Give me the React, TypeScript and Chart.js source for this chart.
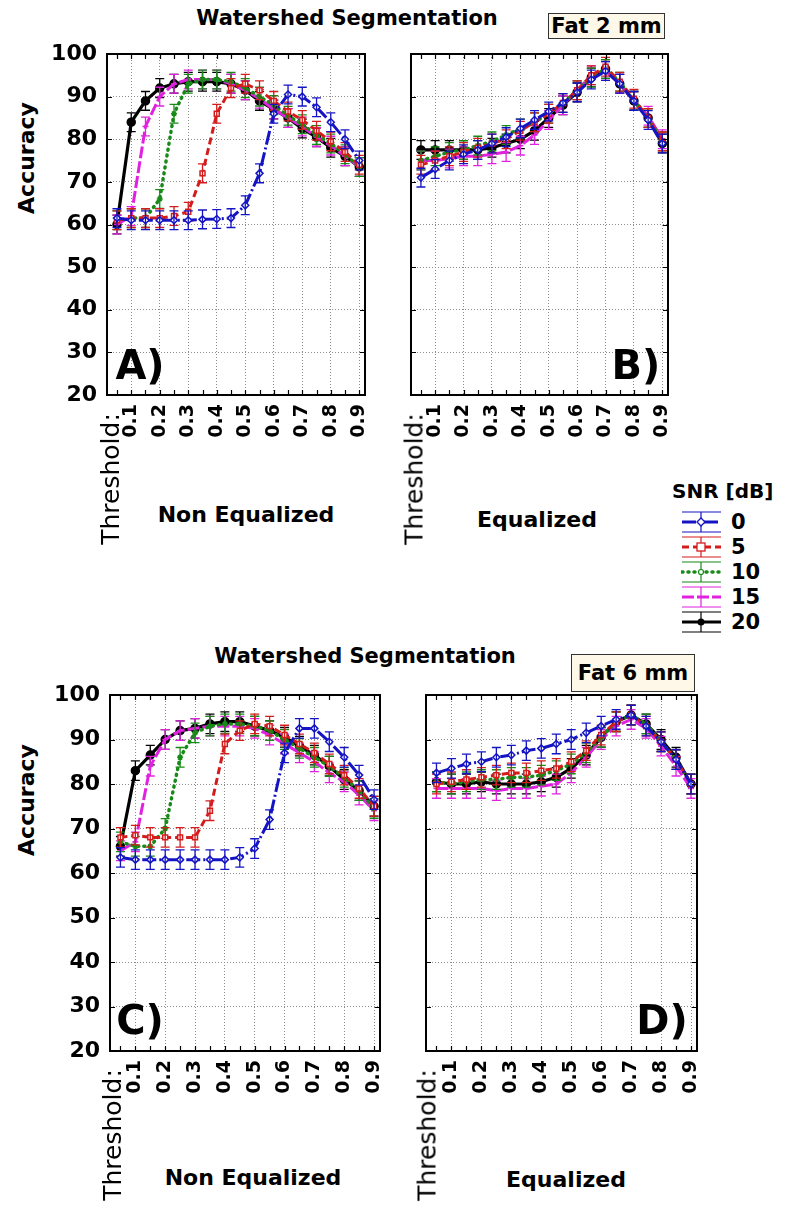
import React, { useEffect, useRef } from "react";
import { Chart, registerables } from "chart.js";
Chart.register(...registerables);

// ---------- DATA ----------
const THRESHOLDS = [0.05, 0.1, 0.15, 0.2, 0.25, 0.3, 0.35, 0.4, 0.45, 0.5, 0.55, 0.6, 0.65, 0.7, 0.75, 0.8, 0.85, 0.9];
const X_TICKS = [0.1, 0.2, 0.3, 0.4, 0.5, 0.6, 0.7, 0.8, 0.9];
const X_MINOR = [0.05, 0.1, 0.15, 0.2, 0.25, 0.3, 0.35, 0.4, 0.45, 0.5, 0.55, 0.6, 0.65, 0.7, 0.75, 0.8, 0.85, 0.9];
const Y_TICKS = [20, 30, 40, 50, 60, 70, 80, 90, 100];
const SNR_LEVELS = ["0", "5", "10", "15", "20"];
const ERROR_HALF = 2.2;

// Panel A: Non equalized, fat 2 mm
const A_SNR0 = [61.5, 61, 61, 61, 61, 61, 61.2, 61.3, 61.5, 64.5, 72, 86, 90.5, 90, 87.5, 84, 80, 75];
const A_SNR5 = [61, 61.5, 61.5, 61.5, 62, 63, 72, 86, 92, 93, 91.5, 89, 86.5, 84.5, 82, 79.5, 77, 74];
const A_SNR10 = [61, 61.5, 61.5, 66, 86, 93, 94, 94, 93.5, 92, 90, 88, 85.5, 83.5, 81, 79, 76.5, 73.5];
const A_SNR15 = [60, 62, 83, 90, 93, 94, 94, 94, 93, 91.5, 89.5, 87, 85, 83, 80.5, 78.5, 76, 73.5];
const A_SNR20 = [60, 84, 89, 92, 93, 93.5, 93.5, 93.5, 93, 91.5, 89, 87, 85, 82.5, 80.5, 78, 76, 73.5];

// Panel B: Equalized, fat 2 mm
const B_SNR0 = [71, 73, 75, 76.5, 77.5, 79, 80.5, 82.5, 84.5, 86.5, 88.5, 91, 94, 96, 93, 89, 84.5, 79];
const B_SNR5 = [74, 75, 76, 77, 78, 79, 80, 82, 84, 86, 88.5, 91.5, 95, 97, 93.5, 89.5, 85, 79.5];
const B_SNR10 = [75, 76, 77, 77.5, 78.5, 79.5, 81, 82.5, 84, 86, 88.5, 91.5, 94.5, 96.5, 93.5, 89, 85, 79.5];
const B_SNR15 = [75, 75, 75.5, 76, 76, 76.5, 77, 78.5, 81, 84.5, 88, 91.5, 95, 96, 93, 89, 85.5, 80];
const B_SNR20 = [77.5, 77.5, 77.5, 77.5, 77.5, 78, 79, 80, 82, 85, 88, 91, 94.5, 96.5, 93, 89, 85, 79];

// Panel C: Non equalized, fat 6 mm
const C_SNR0 = [63.5, 63, 63, 63, 63, 63, 63, 63, 63.5, 65.5, 72, 87, 92.5, 92.5, 89.5, 86, 82, 76.5];
const C_SNR5 = [68, 68.5, 68, 68, 68, 68, 74, 89, 92, 93.5, 93, 91, 89, 87, 84.5, 82, 79, 75];
const C_SNR10 = [67, 66, 66, 70, 86, 91.5, 93, 93.5, 93.5, 93, 92, 90, 88, 86, 84, 81.5, 78.5, 74.5];
const C_SNR15 = [65, 67, 84, 90, 92, 92.5, 93, 93, 93, 92.5, 91, 89, 87, 85, 82.5, 80.5, 77.5, 74];
const C_SNR20 = [66, 83, 86.5, 90, 92, 92.5, 93.5, 94, 94, 93, 92, 90.5, 88.5, 86.5, 84, 81, 78.5, 75];

// Panel D: Equalized, fat 6 mm
const D_SNR0 = [82.5, 83.5, 84.5, 85, 86, 86.5, 87.5, 88, 89, 90, 91.5, 93, 94.5, 95.5, 93, 89.5, 85.5, 80];
const D_SNR5 = [80, 80.5, 81, 81.5, 82, 82.5, 82.5, 83, 83.5, 85, 87.5, 91, 94, 95.5, 93, 89.5, 85.5, 80];
const D_SNR10 = [80.5, 80, 80.5, 81, 81, 81.5, 81.5, 82, 83, 84.5, 87, 90.5, 94, 95.5, 93.5, 89.5, 85.5, 80];
const D_SNR15 = [79, 79, 79, 79, 78.5, 79, 79, 79.5, 80, 82.5, 86, 90, 93, 94.5, 92.5, 88.5, 84, 79];
const D_SNR20 = [80.5, 80, 80, 80.5, 80, 80, 80, 80.5, 81.5, 83.5, 86.5, 90.5, 94, 95.5, 93.5, 90, 86, 80];

// ---------- STYLE ----------
const FONT = "'DejaVu Sans', Arial, sans-serif";
const X_MIN = 0.015;
const X_MAX = 0.92;

type SeriesStyle = { color: string; dash: number[]; width: number; point: string; radius: number; fill: string; cap: CanvasLineCap };
const STYLES: SeriesStyle[] = [
  { color: "#1414c4", dash: [14, 3, 2, 3], width: 3, point: "rectRot", radius: 3.5, fill: "#ffffff", cap: "butt" },
  { color: "#d41c1c", dash: [7, 4], width: 3, point: "rect", radius: 3.5, fill: "#ffffff", cap: "butt" },
  { color: "#178a17", dash: [1, 5], width: 3.5, point: "star", radius: 3, fill: "#ffffff", cap: "round" },
  { color: "#e022e0", dash: [12, 3], width: 3, point: "line", radius: 3, fill: "#e022e0", cap: "butt" },
  { color: "#000000", dash: [], width: 3.2, point: "circle", radius: 4, fill: "#000000", cap: "butt" },
];

type Rect = { left: number; top: number; right: number; bottom: number };

const decorPlugin = {
  id: "decor",
  afterDatasetDraw(chart: any, args: any) {
    const ctx = chart.ctx;
    const ds = chart.data.datasets[args.index];
    const xs = chart.scales.x;
    const ys = chart.scales.y;
    const area = chart.chartArea;
    ctx.save();
    ctx.beginPath();
    ctx.rect(area.left, area.top, area.right - area.left, area.bottom - area.top);
    ctx.clip();
    ctx.strokeStyle = ds.borderColor;
    ctx.lineWidth = 1.3;
    ctx.setLineDash([]);
    for (const p of ds.data) {
      const px = xs.getPixelForValue(p.x);
      const t = ys.getPixelForValue(p.y + ERROR_HALF);
      const b = ys.getPixelForValue(p.y - ERROR_HALF);
      ctx.beginPath();
      ctx.moveTo(px, t);
      ctx.lineTo(px, b);
      ctx.moveTo(px - 4.5, t);
      ctx.lineTo(px + 4.5, t);
      ctx.moveTo(px - 4.5, b);
      ctx.lineTo(px + 4.5, b);
      ctx.stroke();
    }
    ctx.restore();
  },
  afterDraw(chart: any) {
    const ctx = chart.ctx;
    const a = chart.chartArea;
    const xs = chart.scales.x;
    const ys = chart.scales.y;
    ctx.save();
    ctx.setLineDash([]);
    ctx.strokeStyle = "#000";
    ctx.lineWidth = 1.2;
    ctx.beginPath();
    for (const v of X_MINOR) {
      const px = Math.round(xs.getPixelForValue(v)) + 0.5;
      ctx.moveTo(px, a.top);
      ctx.lineTo(px, a.top + 5);
      ctx.moveTo(px, a.bottom);
      ctx.lineTo(px, a.bottom - 5);
    }
    for (const v of Y_TICKS) {
      const py = Math.round(ys.getPixelForValue(v)) + 0.5;
      ctx.moveTo(a.left, py);
      ctx.lineTo(a.left + 5, py);
      ctx.moveTo(a.right, py);
      ctx.lineTo(a.right - 5, py);
    }
    ctx.stroke();
    ctx.lineWidth = 2;
    ctx.strokeRect(a.left, a.top, a.right - a.left, a.bottom - a.top);
    ctx.restore();
  },
};

function Panel({ box, plot, series, showY }: { box: Rect; plot: Rect; series: number[][]; showY: boolean }) {
  const ref = useRef<HTMLCanvasElement>(null);
  const w = box.right - box.left;
  const h = box.bottom - box.top;
  useEffect(() => {
    const canvas = ref.current!;
    const yW = plot.left - box.left;
    const xH = box.bottom - plot.bottom;
    const chart = new Chart(canvas, {
      type: "line",
      data: {
        datasets: series.map((vals, i) => ({
          label: SNR_LEVELS[i],
          data: THRESHOLDS.map((t, j) => ({ x: t, y: vals[j] })),
          borderColor: STYLES[i].color,
          backgroundColor: STYLES[i].fill,
          borderWidth: STYLES[i].width,
          borderDash: STYLES[i].dash,
          borderCapStyle: STYLES[i].cap,
          pointStyle: STYLES[i].point as any,
          pointRadius: STYLES[i].radius,
          pointBorderWidth: 1.5,
          pointBorderColor: STYLES[i].color,
          pointBackgroundColor: STYLES[i].fill,
          tension: 0,
          fill: false,
        })),
      },
      options: {
        responsive: false,
        animation: false,
        devicePixelRatio: 1,
        layout: { padding: { top: plot.top - box.top, right: box.right - plot.right, left: 0, bottom: 0 } },
        plugins: { legend: { display: false }, tooltip: { enabled: false }, title: { display: false } },
        scales: {
          x: {
            type: "linear",
            min: X_MIN,
            max: X_MAX,
            afterBuildTicks: (s: any) => {
              s.ticks = X_TICKS.map((v) => ({ value: v }));
            },
            afterFit: (s: any) => {
              s.height = xH;
              s.paddingLeft = 0;
              s.paddingRight = 0;
            },
            ticks: {
              autoSkip: false,
              minRotation: 90,
              maxRotation: 90,
              padding: 9,
              color: "#000",
              font: { family: FONT, weight: "bold", size: 19 },
              callback: (v: any) => Number(v).toFixed(1),
            },
            grid: { color: "#8c8c8c", lineWidth: 1, drawTicks: false },
            border: { display: false, dash: [1, 2] },
          },
          y: {
            type: "linear",
            min: 20,
            max: 100,
            afterBuildTicks: (s: any) => {
              s.ticks = Y_TICKS.map((v) => ({ value: v }));
            },
            afterFit: (s: any) => {
              s.width = yW;
              s.paddingTop = 0;
              s.paddingBottom = 0;
            },
            ticks: {
              display: showY,
              padding: 10,
              color: "#000",
              font: { family: FONT, weight: "bold", size: 22 },
            },
            grid: { color: "#8c8c8c", lineWidth: 1, drawTicks: false },
            border: { display: false, dash: [1, 2] },
          },
        },
      },
      plugins: [decorPlugin],
    });
    return () => chart.destroy();
  }, []);
  return (
    <canvas
      ref={ref}
      width={w}
      height={h}
      style={{ position: "absolute", left: box.left, top: box.top, width: w, height: h }}
    />
  );
}

const abs = (s: React.CSSProperties): React.CSSProperties => ({ position: "absolute", fontFamily: FONT, color: "#000", whiteSpace: "nowrap", ...s });

function Centered({ x, y, text, size, weight = "bold", rotate = 0 }: { x: number; y: number; text: string; size: number; weight?: string; rotate?: number }) {
  return (
    <div
      style={abs({
        left: x,
        top: y,
        fontSize: size,
        fontWeight: weight as any,
        lineHeight: 1,
        transform: `translate(-50%, -50%) rotate(${rotate}deg)`,
      })}
    >
      {text}
    </div>
  );
}

function LegendSymbol({ i }: { i: number }) {
  const s = STYLES[i];
  const cx = 20;
  let marker: React.ReactNode = null;
  if (s.point === "rectRot") marker = <polygon points={`${cx},9 ${cx + 4},13 ${cx},17 ${cx - 4},13`} fill="#fff" stroke={s.color} strokeWidth={1.3} />;
  else if (s.point === "rect") marker = <rect x={cx - 4} y={9} width={8} height={8} fill="#fff" stroke={s.color} strokeWidth={1.3} />;
  else if (s.point === "star") marker = <circle cx={cx} cy={13} r={2.5} fill="#fff" stroke={s.color} strokeWidth={1.2} />;
  else if (s.point === "circle") marker = <circle cx={cx} cy={13} r={3.5} fill={s.color} />;
  return (
    <svg width={42} height={26} style={{ position: "absolute", left: 0, top: 0 }}>
      <line x1={1} y1={3} x2={40} y2={3} stroke={s.color} strokeWidth={1.2} />
      <line x1={1} y1={23} x2={40} y2={23} stroke={s.color} strokeWidth={1.2} />
      <line x1={cx} y1={3} x2={cx} y2={23} stroke={s.color} strokeWidth={1.2} />
      <line x1={1} y1={13} x2={40} y2={13} stroke={s.color} strokeWidth={s.width} strokeDasharray={s.dash.length ? s.dash.join(" ") : undefined} strokeLinecap={s.cap} />
      {marker}
    </svg>
  );
}

function Legend() {
  const ys = [522, 547, 572, 597, 622];
  return (
    <>
      <div style={abs({ left: 672, top: 480, fontSize: 20, fontWeight: "bold", lineHeight: "22px" })}>SNR [dB]</div>
      {SNR_LEVELS.map((lbl, i) => (
        <div key={lbl} style={{ position: "absolute", left: 681, top: ys[i] - 13, width: 105, height: 26 }}>
          <LegendSymbol i={i} />
          <div style={abs({ left: 50, top: 2, fontSize: 21, fontWeight: "bold", lineHeight: "22px" })}>{lbl}</div>
        </div>
      ))}
    </>
  );
}

function FatBox({ left, top, width, height, text }: { left: number; top: number; width: number; height: number; text: string }) {
  return (
    <div
      style={abs({
        left,
        top,
        width,
        height,
        boxSizing: "border-box",
        border: "1.5px solid #333",
        background: "#fdf8e8",
        fontSize: 21,
        fontWeight: "bold",
        display: "flex",
        alignItems: "center",
        justifyContent: "center",
      })}
    >
      {text}
    </div>
  );
}

export default function App() {
  return (
    <div style={{ position: "absolute", left: 0, top: 0, width: 787, height: 1205, background: "#fff", overflow: "hidden" }}>
      <Centered x={347} y={18} text="Watershed Segmentation" size={21} />
      <Centered x={365} y={656} text="Watershed Segmentation" size={21} />
      <FatBox left={548} top={13} width={117} height={26} text="Fat 2 mm" />
      <FatBox left={571} top={654} width={124} height={38} text="Fat 6 mm" />

      <Panel box={{ left: 40, top: 40, right: 375, bottom: 460 }} plot={{ left: 107, top: 54, right: 365, bottom: 395 }} series={[A_SNR0, A_SNR5, A_SNR10, A_SNR15, A_SNR20]} showY={true} />
      <Panel box={{ left: 395, top: 40, right: 678, bottom: 460 }} plot={{ left: 411, top: 54, right: 668, bottom: 395 }} series={[B_SNR0, B_SNR5, B_SNR10, B_SNR15, B_SNR20]} showY={false} />
      <Panel box={{ left: 40, top: 680, right: 390, bottom: 1115 }} plot={{ left: 110, top: 695, right: 380, bottom: 1051 }} series={[C_SNR0, C_SNR5, C_SNR10, C_SNR15, C_SNR20]} showY={true} />
      <Panel box={{ left: 410, top: 680, right: 707, bottom: 1115 }} plot={{ left: 426, top: 695, right: 697, bottom: 1051 }} series={[D_SNR0, D_SNR5, D_SNR10, D_SNR15, D_SNR20]} showY={false} />

      <Centered x={27} y={158} text="Accuracy" size={22} rotate={-90} />
      <Centered x={27} y={800} text="Accuracy" size={22} rotate={-90} />

      <Centered x={110} y={479} text="Threshold:" size={25} weight="normal" rotate={-90} />
      <Centered x={414} y={479} text="Threshold:" size={25} weight="normal" rotate={-90} />
      <Centered x={112} y={1135} text="Threshold:" size={25} weight="normal" rotate={-90} />
      <Centered x={427} y={1135} text="Threshold:" size={25} weight="normal" rotate={-90} />

      <Centered x={246} y={515} text="Non Equalized" size={22} />
      <Centered x={537} y={520} text="Equalized" size={22} />
      <Centered x={253} y={1178} text="Non Equalized" size={22} />
      <Centered x={566} y={1180} text="Equalized" size={22} />

      <Centered x={140} y={365} text="A)" size={40} />
      <Centered x={636} y={365} text="B)" size={40} />
      <Centered x={140} y={1020} text="C)" size={40} />
      <Centered x={662} y={1020} text="D)" size={40} />

      <Legend />
    </div>
  );
}
